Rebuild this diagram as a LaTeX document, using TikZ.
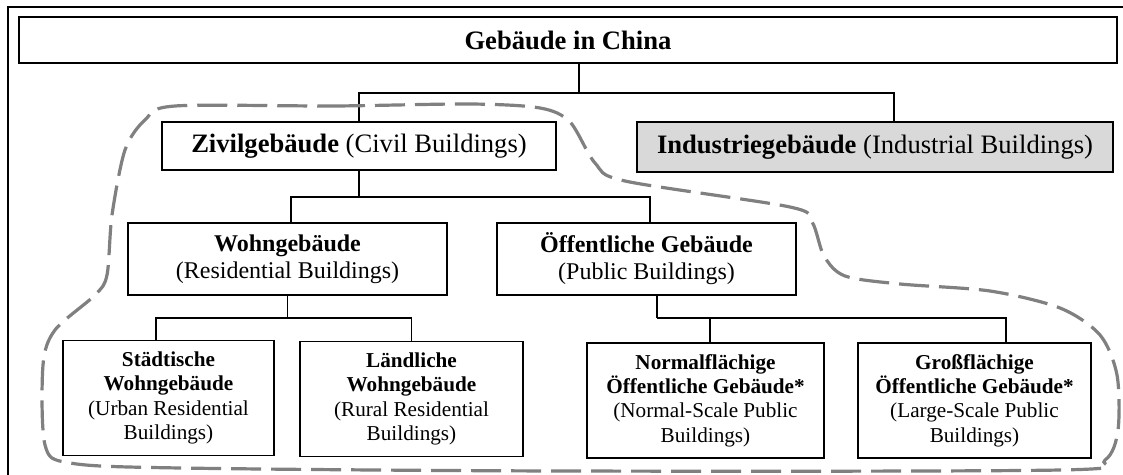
\documentclass[tikz,border=0pt]{standalone}
\usepackage{fontspec}
\setmainfont{Liberation Serif}
\definecolor{randgrau}{gray}{0.5}
\definecolor{industriegrau}{gray}{0.85}
\tikzset{
  kasten/.style={draw, line width=0.7pt, inner sep=0pt, align=center},
  ebene1/.style={kasten, font=\fontsize{13.3}{15}\selectfont},
  ebene2/.style={kasten, font=\fontsize{12}{13.5}\selectfont, minimum height=36pt},
  ebene3/.style={kasten, font=\fontsize{10.6}{12.2}\selectfont, minimum height=57.5pt},
  linie/.style={line width=0.7pt},
}
\begin{document}
\begin{tikzpicture}[x=0.5pt, y=-0.5pt]
  \useasboundingbox (0,0) rectangle (1123,475);
  \draw[line width=0.6pt] (8,475) -- (8,7) -- (1123,7);

  % oben
  \node[ebene1, minimum width=549pt, minimum height=23pt] (titel) at (568,40) {\textbf{Gebäude in China}};
  \node[ebene1, minimum width=197pt, minimum height=24pt] (zivil) at (359,146) {\textbf{Zivilgebäude} (Civil Buildings)};
  \node[ebene1, minimum width=238pt, minimum height=25pt, fill=industriegrau, line width=1.3pt] (industrie) at (875,147) {\textbf{Industriegebäude} (Industrial Buildings)};

  \node[ebene2, minimum width=159.5pt] (wohn) at (287.5,259) {\textbf{Wohngebäude}\\(Residential Buildings)};
  \node[ebene2, minimum width=149.5pt] (oeff) at (646.5,259) {\textbf{Öffentliche Gebäude}\\(Public Buildings)};

  % unten
  \node[ebene3, minimum width=105.5pt] (staedt) at (168.5,398) {\textbf{Städtische}\\\textbf{Wohngebäude}\\(Urban Residential\\Buildings)};
  \node[ebene3, minimum width=111.5pt] (laendl) at (411.5,399) {\textbf{Ländliche}\\\textbf{Wohngebäude}\\(Rural Residential\\Buildings)};
  \node[ebene3, minimum width=118.5pt] (normal) at (705.5,400.5) {\textbf{Normalflächige}\\\textbf{Öffentliche Gebäude*}\\(Normal-Scale Public\\Buildings)};
  \node[ebene3, minimum width=116.5pt] (grossfl) at (974.5,400.5) {\textbf{Großflächige}\\\textbf{Öffentliche Gebäude*}\\(Large-Scale Public\\Buildings)};

  \begin{scope}[linie]
    \coordinate (v1) at (579,93);
    \draw ([xshift=5.5pt]titel.south) |- (v1);
    \draw (zivil.north) |- (v1) -| ([xshift=9.5pt]industrie.north);

    \coordinate (v2) at (359,197);
    \draw (zivil.south) |- (v2);
    \draw ([xshift=1.75pt]wohn.north) |- (v2) -| ([xshift=1.75pt]oeff.north);

    \coordinate (v3) at (287.5,318);
    \draw (wohn.south) |- (v3);
    \draw ([xshift=-6.25pt]staedt.north) |- (v3) -| (laendl.north);

    \coordinate (v4) at (657,318);
    \draw[line width=1.3pt] ([xshift=5.25pt]oeff.south) |- (v4);
    \draw (v4) -| ([xshift=15.75pt]grossfl.north);
    \draw ([xshift=2.25pt]normal.north) |- (v4);
  \end{scope}

  % Zivilgebaeude umrandet
  \draw[randgrau, line width=1.6pt, dash pattern=on 15pt off 5pt]
    plot[smooth cycle, tension=0.5] coordinates {
      (175,106) (335,106) (470,104) (540,108) (570,122) (595,163) (625,181)
      (790,207) (812,222) (824,256) (845,276) (900,284) (990,291) (1060,308)
      (1100,335) (1117,375) (1118,430) (1105,460) (1060,470) (560,471)
      (180,468) (70,463) (45,445) (43,365) (55,330) (95,295) (107,275)
      (112,215) (125,150) (145,120)};
\end{tikzpicture}
\end{document}
